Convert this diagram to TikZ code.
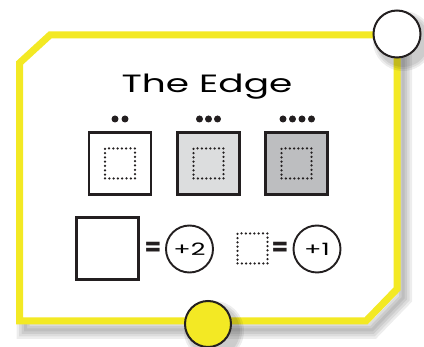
\documentclass[tikz,border=0pt]{standalone}
\usepackage{fontspec}
\newfontfamily\titlefont[FakeStretch=1.5]{Poppins}
\newfontfamily\eqfont{Poppins}
\definecolor{cardyellow}{RGB}{243,233,36}
\definecolor{ink}{RGB}{35,31,32}
\definecolor{lightfill}{RGB}{220,221,222}
\definecolor{darkfill}{RGB}{189,190,192}
\tikzset{
  cardline/.style={draw=cardyellow, line width=7pt, line join=miter},
  tile/.style={draw=ink, line width=2.4pt, minimum width=62pt, minimum height=62pt, inner sep=0pt, shape=rectangle},
  dotbox/.style={draw=ink, line width=2.5pt, dash pattern=on 0pt off 4.3pt, line cap=round, minimum width=30pt, minimum height=30pt, inner sep=0pt, shape=rectangle},
  token/.style={circle, draw=ink, line width=1.9pt, minimum size=47pt, inner sep=0pt, fill=white, font=\titlefont\fontsize{17}{17}\selectfont},
  pip/.style={circle, fill=ink, inner sep=0pt, minimum size=7pt},
  eqsign/.style={font=\eqfont\fontsize{24}{24}\selectfont\bfseries, text=ink, inner sep=0pt},
}
\begin{document}
\begin{tikzpicture}[x=1pt, y=-1pt]
\useasboundingbox (0,0) rectangle (424,347);
% shadow of card
\foreach \w in {18,13,8,3} {
  \draw[shift={(6,9)}, line width=\w pt, black, opacity=0.07, line join=miter]
    (19.5,63) -- (50,35) -- (397,35) -- (397,289) -- (366,321) -- (19.5,321) -- cycle;
}
% card
\draw[cardline, fill=white]
  (19.5,63) -- (50,35) -- (397,35) -- (397,289) -- (366,321) -- (19.5,321) -- cycle;
% corner circles with shadows
\foreach \r in {30,28,26} {
  \fill[black, opacity=0.07] (403,41) circle (\r pt);
  \fill[black, opacity=0.07] (214,331) circle (\r pt);
}
\node[circle, draw=ink, fill=white, line width=2pt, minimum size=47pt, inner sep=0pt] (cornerTR) at (397,34) {};
\node[circle, draw=ink, fill=cardyellow, line width=2pt, minimum size=46pt, inner sep=0pt] (cornerB) at (208,324) {};
% title
\node[anchor=base, inner sep=0pt, font=\titlefont\fontsize{25}{25}\selectfont] (title) at (207,93) {The Edge};
% tiles
\node[tile, fill=white] (t1) at (120,163.5) {};
\node[tile, fill=lightfill] (t2) at (208.5,163.5) {};
\node[tile, fill=darkfill] (t3) at (296.5,163.5) {};
\node[dotbox] (d1) at (t1) {};
\node[dotbox] (d2) at (t2) {};
\node[dotbox] (d3) at (t3) {};
% pips
\node[pip] (p11) at (115,119) {};
\node[pip] (p12) at (125,119) {};
\node[pip] (p21) at (199.5,119) {};
\node[pip] (p22) at (208.5,119) {};
\node[pip] (p23) at (217.5,119) {};
\node[pip] (p31) at (283,119) {};
\node[pip] (p32) at (292.5,119) {};
\node[pip] (p33) at (302,119) {};
\node[pip] (p34) at (311.5,119) {};
% legend
\node[tile, fill=white] (big) at (107.5,248.5) {};
\node[eqsign] (eq1) at (153,249) {=};
\node[token] (plus2) at (189.5,249) {+2};
\node[dotbox] (small) at (252.5,248.5) {};
\node[eqsign] (eq2) at (280,249) {=};
\node[token] (plus1) at (317,249) {+1};
\end{tikzpicture}
\end{document}
